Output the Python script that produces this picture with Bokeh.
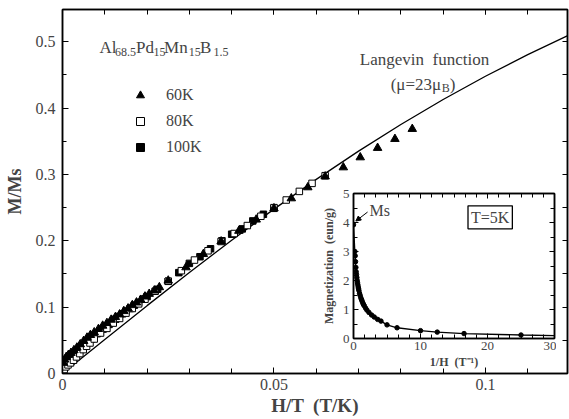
from bokeh.plotting import figure
from bokeh.layouts import column
from bokeh.models import (Range1d, LinearAxis, FixedTicker, SingleIntervalTicker,
                          Label, Legend, LegendItem, Arrow, NormalHead)
from bokeh.embed import file_html
from bokeh.resources import INLINE

# ---------------- data ----------------
# 100 K, filled squares
h100 = [0.0001, 0.0003, 0.0006, 0.0010, 0.0015, 0.0020, 0.0025, 0.0030, 0.0035, 0.0040,
        0.0045, 0.0050, 0.0056, 0.0062, 0.0068, 0.0075, 0.0082, 0.0089, 0.0096, 0.0103,
        0.0110, 0.0118, 0.0126, 0.0134, 0.0142, 0.0150, 0.0160, 0.0170, 0.0180, 0.0190,
        0.0200, 0.0225, 0.0250, 0.0275, 0.0300, 0.0325, 0.0350, 0.0377, 0.0400, 0.0425,
        0.0450, 0.0475, 0.0500]
m100 = [0.004, 0.009, 0.013, 0.016, 0.019, 0.021, 0.024, 0.027, 0.031, 0.034,
        0.038, 0.041, 0.045, 0.049, 0.052, 0.056, 0.060, 0.063, 0.067, 0.071,
        0.074, 0.078, 0.082, 0.086, 0.090, 0.094, 0.098, 0.103, 0.107, 0.112,
        0.116, 0.127, 0.139, 0.152, 0.166, 0.176, 0.188, 0.200, 0.210, 0.218,
        0.230, 0.240, 0.249]
# 80 K, open squares
h80 = [0.0001, 0.0004, 0.0008, 0.0013, 0.0019, 0.0026, 0.0033, 0.0041, 0.0049, 0.0057,
       0.0065, 0.0075, 0.0090, 0.0105, 0.0120, 0.0135, 0.0150, 0.0165, 0.0180, 0.0195,
       0.0219, 0.0250, 0.0281, 0.0312, 0.0344, 0.0375, 0.0406, 0.0437, 0.0469, 0.0500,
       0.0529, 0.0560, 0.0590, 0.0621]
m80 = [0.002, 0.006, 0.010, 0.013, 0.016, 0.020, 0.025, 0.030, 0.036, 0.041,
       0.046, 0.052, 0.061, 0.068, 0.076, 0.083, 0.091, 0.098, 0.105, 0.112,
       0.124, 0.139, 0.155, 0.171, 0.185, 0.199, 0.211, 0.223, 0.237, 0.250,
       0.2615, 0.2745, 0.2866, 0.2982]
# 60 K, filled triangles
h60 = [0.0002, 0.0005, 0.0009, 0.0014, 0.0020, 0.0027, 0.0034, 0.0042, 0.0050, 0.0058,
       0.0066, 0.0075, 0.0085, 0.0095, 0.0105, 0.0115, 0.0125, 0.0135, 0.0145, 0.0155,
       0.0165, 0.0175, 0.0185, 0.0195, 0.0205, 0.0217, 0.0229, 0.0250, 0.0292, 0.0333,
       0.0375, 0.0417, 0.0458, 0.0500, 0.0541, 0.0580, 0.0621, 0.0664, 0.0704, 0.0745,
       0.0786, 0.0827]
m60 = [0.016, 0.021, 0.025, 0.028, 0.031, 0.035, 0.039, 0.044, 0.049, 0.054,
       0.058, 0.062, 0.067, 0.072, 0.076, 0.081, 0.085, 0.089, 0.094, 0.098,
       0.103, 0.107, 0.111, 0.116, 0.120, 0.125, 0.130, 0.140, 0.160, 0.180,
       0.199, 0.215, 0.232, 0.249, 0.264, 0.2806, 0.297, 0.3107, 0.3258, 0.340,
       0.3535, 0.3686]
# Langevin function curve (mu = 23 muB)
lang_h = [0.0, 0.01, 0.02, 0.03, 0.04, 0.05, 0.06, 0.07, 0.08, 0.09, 0.10, 0.11, 0.12]
lang_m = [0.0, 0.0514, 0.1023, 0.1523, 0.2009, 0.2478, 0.2926, 0.3352, 0.3753, 0.4130,
          0.4481, 0.4807, 0.5109]

# inset: T = 5 K, magnetization vs 1/H
inv_h = [0.0, 0.2, 0.25, 0.3, 0.35, 0.4, 0.45, 0.5, 0.55, 0.6, 0.65, 0.7, 0.75, 0.8, 0.9,
         1.0, 1.1, 1.2, 1.3, 1.4, 1.5, 1.6, 1.8, 2.0, 2.3, 2.7, 3.1, 3.6, 4.1, 5.0, 6.5,
         10.0, 12.5, 16.5, 25.0]
mag = [3.92, 3.0, 2.85, 2.65, 2.45, 2.3, 2.2, 2.1, 2.0, 1.92, 1.85, 1.78, 1.72, 1.66, 1.56,
       1.48, 1.40, 1.34, 1.28, 1.22, 1.17, 1.13, 1.05, 0.98, 0.90, 0.81, 0.74, 0.66, 0.60,
       0.47, 0.37, 0.27, 0.22, 0.17, 0.12]
fit_x = inv_h + [30.0]
fit_y = mag + [0.10]

x_major = [0, 0.05, 0.1]
x_minor = [0.01 * i for i in range(13)]
y_major = [0, 0.1, 0.2, 0.3, 0.4, 0.5]
y_minor = [0.05 * i for i in range(12)]

SERIF = "Liberation Serif"
SP = " \u00a0"   # wide gap as in the original typesetting


def hide_labels(ax):
    ax.major_label_text_color = None
    ax.major_label_text_font_size = "1px"
    ax.major_label_standoff = 0


# ---------------- main figure ----------------
p = figure(width=569, height=419, x_range=Range1d(0, 0.1194), y_range=Range1d(0, 0.5487),
           output_backend="svg", toolbar_location=None,
           min_border_left=62, min_border_right=2, min_border_top=9, min_border_bottom=46)
p.background_fill_color = "white"
p.border_fill_color = "white"
p.outline_line_color = "black"
p.outline_line_width = 1.5
p.xgrid.visible = False
p.ygrid.visible = False

xa = p.xaxis[0]
xa.ticker = FixedTicker(ticks=x_major, minor_ticks=x_minor)
xa.major_label_overrides = {0: "0", 0.05: "0.05", 0.1: "0.1"}
ya = p.yaxis[0]
ya.ticker = FixedTicker(ticks=y_major, minor_ticks=y_minor)
ya.major_label_overrides = {0: "0", 0.1: "0.1", 0.2: "0.2", 0.3: "0.3", 0.4: "0.4", 0.5: "0.5"}
for ax in (xa, ya):
    ax.axis_line_width = 1.5
    ax.major_tick_in = 6
    ax.major_tick_out = 0
    ax.minor_tick_in = 4
    ax.minor_tick_out = 0
    ax.major_label_text_font = SERIF
    ax.major_label_text_font_size = "16px"
    ax.axis_label_text_font = SERIF
    ax.axis_label_text_font_style = "bold"
    ax.axis_label_text_font_size = "19px"
xa.minor_tick_in = 5
xa.major_label_standoff = 5
xa.axis_label = "H/T" + SP + "(T/K)"
xa.axis_label_standoff = 2
ya.major_label_standoff = 7
ya.axis_label = "M/Ms"
ya.axis_label_standoff = 8
ya.axis_label_text_font_size = "18px"

top = LinearAxis(ticker=FixedTicker(ticks=x_major, minor_ticks=x_minor))
right = LinearAxis(ticker=FixedTicker(ticks=y_minor, minor_ticks=[]))
for ax in (top, right):
    ax.axis_line_width = 1.5
    ax.major_tick_in = 5
    ax.major_tick_out = 0
    ax.minor_tick_in = 5
    ax.minor_tick_out = 0
    hide_labels(ax)
p.add_layout(top, "above")
p.add_layout(right, "right")

p.line(lang_h, lang_m, line_color="black", line_width=1.3)
r100 = p.scatter(h100, m100, marker="square", size=6.5, fill_color="black", line_color="black")
r80 = p.scatter(h80, m80, marker="square", size=6.5, fill_color="white", line_color="black",
                line_width=1)
r60 = p.scatter(h60, m60, marker="triangle", size=8.5, fill_color="black", line_color="black")

legend = Legend(items=[LegendItem(label="60K", renderers=[r60]),
                       LegendItem(label="80K", renderers=[r80]),
                       LegendItem(label="100K", renderers=[r100])],
                location=(68, 216), padding=0, margin=0, spacing=6,
                glyph_width=20, glyph_height=20, label_height=20, label_standoff=16,
                label_text_font=SERIF, label_text_font_size="16px",
                border_line_color=None, background_fill_alpha=0)
p.add_layout(legend)

# compound label: Al68.5Pd15Mn15B1.5
base_x, base_y = 0.00872, 0.4914
pieces = [("Al", 0, False), ("68.5", 15.7, True), ("Pd", 36.7, False), ("15", 54, True),
          ("Mn", 64.7, False), ("15", 89.4, True), ("B", 100.7, False), ("1.5", 114, True)]
for txt, off, sub in pieces:
    p.add_layout(Label(x=base_x, y=base_y, text=txt, x_offset=off, y_offset=-4 if sub else 0,
                       text_font=SERIF, text_font_size="12px" if sub else "17px",
                       text_baseline="alphabetic", text_align="left"))

p.add_layout(Label(x=0.0703, y=0.474, text="Langevin" + SP + "function", text_font=SERIF,
                   text_font_size="17px", text_baseline="middle", text_align="left"))
mx, my = 0.0776, 0.436
p.add_layout(Label(x=mx, y=my, text="(\u03bc=23\u03bc", text_font=SERIF, text_font_size="17px",
                   text_baseline="alphabetic"))
p.add_layout(Label(x=mx, y=my, x_offset=51, y_offset=-4, text="B", text_font=SERIF,
                   text_font_size="12px", text_baseline="alphabetic"))
p.add_layout(Label(x=mx, y=my, x_offset=59, text=")", text_font=SERIF, text_font_size="17px",
                   text_baseline="alphabetic"))

# ---------------- inset figure ----------------
q = figure(width=265, height=190, x_range=Range1d(0, 30), y_range=Range1d(0, 5),
           output_backend="svg", toolbar_location=None,
           min_border_left=62, min_border_right=2, min_border_top=10, min_border_bottom=35,
           margin=(-236, 0, 0, 291))
q.background_fill_color = "white"
q.border_fill_alpha = 0
q.outline_line_color = "black"
q.outline_line_width = 1.5
q.xgrid.visible = False
q.ygrid.visible = False

qx = q.xaxis[0]
qy = q.yaxis[0]
qx.ticker = SingleIntervalTicker(interval=10, num_minor_ticks=6)
qy.ticker = SingleIntervalTicker(interval=1, num_minor_ticks=2)
for ax in (qx, qy):
    ax.axis_line_width = 1.5
    ax.major_tick_in = 5
    ax.major_tick_out = 0
    ax.minor_tick_in = 4
    ax.minor_tick_out = 0
    ax.major_label_text_font = SERIF
    ax.major_label_text_font_size = "13px"
    ax.axis_label_text_font = SERIF
    ax.axis_label_text_font_style = "bold"
    ax.axis_label_text_font_size = "12px"
qx.major_label_standoff = 3
qx.axis_label = "1/H" + SP + "(T\u207b\u00b9)"
qx.axis_label_standoff = 2
qy.major_label_standoff = 4
qy.axis_label = "Magnetization" + SP + "(eun/g)"
qy.axis_label_standoff = 4

qtop = LinearAxis(ticker=SingleIntervalTicker(interval=10, num_minor_ticks=6))
qright = LinearAxis(ticker=SingleIntervalTicker(interval=1, num_minor_ticks=2))
for ax in (qtop, qright):
    ax.axis_line_width = 1.5
    ax.major_tick_in = 5
    ax.major_tick_out = 0
    ax.minor_tick_in = 4
    ax.minor_tick_out = 0
    hide_labels(ax)
q.add_layout(qtop, "above")
q.add_layout(qright, "right")

q.line(fit_x, fit_y, line_color="black", line_width=1.3)
q.scatter(inv_h, mag, marker="circle", size=4.5, fill_color="black", line_color="black")

q.add_layout(Arrow(end=NormalHead(size=5, fill_color="black", line_color="black"),
                   x_start=2.1, y_start=4.36, x_end=0.35, y_end=4.05, line_width=1))
q.add_layout(Label(x=2.4, y=4.42, text="Ms", text_font=SERIF, text_font_size="16px",
                   text_baseline="middle", text_align="left"))
q.add_layout(Label(x=20.4, y=4.18, text="T=5K", text_font=SERIF, text_font_size="16px",
                   text_baseline="middle", text_align="center",
                   border_line_color="black", border_line_width=1.3, padding=3))

layout = column(p, q, spacing=0)
open("out.html", "w").write(file_html(layout, INLINE))
